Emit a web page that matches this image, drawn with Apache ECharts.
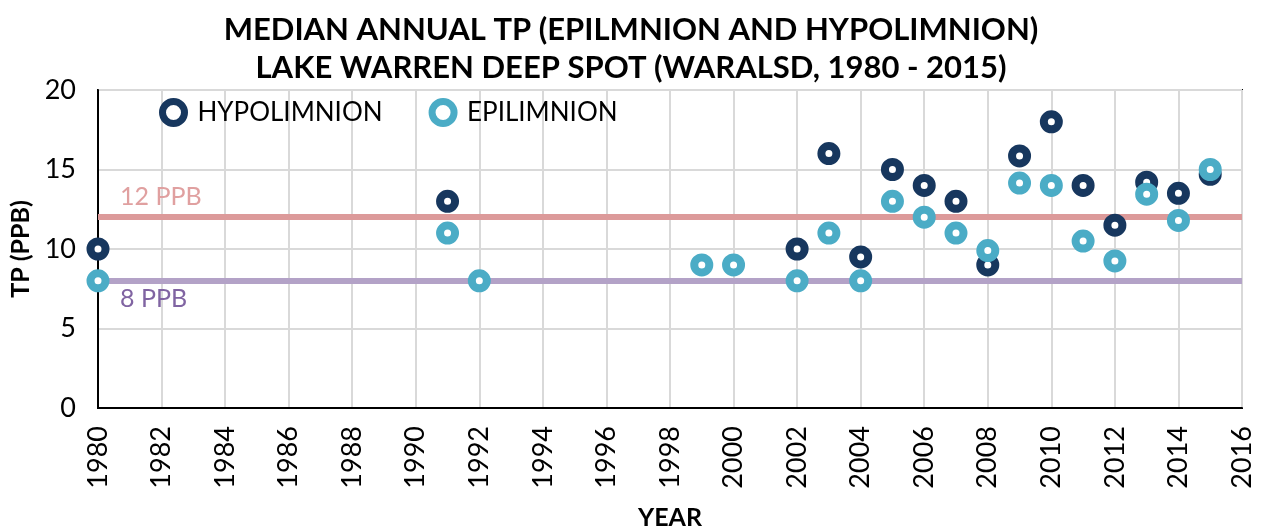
<!DOCTYPE html>
<html><head><meta charset="utf-8">
<script src="https://cdn.jsdelivr.net/npm/echarts@6/dist/echarts.min.js"></script>
<style>html,body{margin:0;padding:0;background:#fff}#c{width:1262px;height:529px}</style>
</head><body><div id="c"></div>
<script>
const titleLines = ["MEDIAN ANNUAL TP (EPILMNION AND HYPOLIMNION)", "LAKE WARREN DEEP SPOT (WARALSD, 1980 - 2015)"];
const hypoYears = [1980, 1991, 2002, 2003, 2004, 2005, 2006, 2007, 2008, 2009, 2010, 2011, 2012, 2013, 2014, 2015];
const hypoValues = [10, 13, 10, 16, 9.5, 15, 14, 13, 9, 15.85, 18, 14, 11.5, 14.2, 13.5, 14.7];
const epiYears = [1980, 1991, 1992, 1999, 2000, 2002, 2003, 2004, 2005, 2006, 2007, 2008, 2009, 2010, 2011, 2012, 2013, 2014, 2015];
const epiValues = [8, 11, 8, 9, 9, 8, 11, 8, 13, 12, 11, 9.9, 14.15, 14, 10.5, 9.25, 13.45, 11.8, 15];
const thresholds = [12, 8];
const thresholdLabels = ["12 PPB", "8 PPB"];

const FONT = "Lato";
const hypo = hypoYears.map((y, i) => [y, hypoValues[i]]);
const epi = epiYears.map((y, i) => [y, epiValues[i]]);

const chart = echarts.init(document.getElementById('c'), null, {renderer: 'canvas'});
const ringStyle = c => ({color: '#fff', borderColor: c, borderWidth: 8, opacity: 1});
chart.setOption({
  animation: false,
  title: {
    text: titleLines.join('\n'), left: 'center', top: 6,
    textStyle: {fontFamily: FONT, fontWeight: 'bold', fontSize: 31, lineHeight: 38, color: '#000'}
  },
  legend: {
    left: 154, top: 93, itemGap: 46, itemWidth: 22, itemHeight: 22,
    textStyle: {fontFamily: FONT, fontSize: 26, color: '#000', padding: [0, 0, 0, 8]},
    data: [{name: 'HYPOLIMNION', icon: 'circle', itemStyle: {color: '#fff', borderColor: '#17375E', borderWidth: 7}},
           {name: 'EPILIMNION', icon: 'circle', itemStyle: {color: '#fff', borderColor: '#4BACC6', borderWidth: 7}}]
  },
  grid: {left: 98, right: 20, top: 90, bottom: 121, show: true, borderColor: '#000', borderWidth: 2, outerBoundsMode: 'none', containLabel: false},
  xAxis: {
    type: 'value', min: 1980, max: 2016, interval: 2,
    name: 'YEAR', nameLocation: 'middle', nameGap: 97,
    nameTextStyle: {fontFamily: FONT, fontWeight: 'bold', fontSize: 25, color: '#000'},
    axisLine: {show: true, lineStyle: {color: '#000', width: 2}},
    axisTick: {show: false},
    axisLabel: {rotate: 90, fontFamily: FONT, fontSize: 27, color: '#000', margin: 18, formatter: v => String(v)},
    splitLine: {show: true, lineStyle: {color: '#d9d9d9', width: 2}}
  },
  yAxis: {
    type: 'value', min: 0, max: 20, interval: 5,
    name: 'TP (PPB)', nameLocation: 'middle', nameGap: 50, nameRotate: 90,
    nameTextStyle: {fontFamily: FONT, fontWeight: 'bold', fontSize: 25, color: '#000'},
    axisLine: {show: true, lineStyle: {color: '#000', width: 2}},
    axisTick: {show: false},
    axisLabel: {fontFamily: FONT, fontSize: 27, color: '#000', margin: 22},
    splitLine: {show: true, lineStyle: {color: '#d9d9d9', width: 2}}
  },
  series: [
    {
      name: 'HYPOLIMNION', type: 'scatter', data: hypo, symbol: 'circle', symbolSize: 15,
      itemStyle: ringStyle('#17375E'), z: 3,
      markLine: {
        silent: true, symbol: 'none', z: 1,
        data: [
          {yAxis: thresholds[0], lineStyle: {color: '#DC9A9A', width: 6, type: 'solid', opacity: 1},
           label: {formatter: thresholdLabels[0], position: 'insideStartTop', color: '#E0A0A0', fontFamily: FONT, fontSize: 25, distance: [22, 8]}},
          {yAxis: thresholds[1], lineStyle: {color: '#B3A2C7', width: 6, type: 'solid', opacity: 1},
           label: {formatter: thresholdLabels[1], position: 'insideStartBottom', color: '#8064A2', fontFamily: FONT, fontSize: 25, distance: [22, 6]}}
        ]
      }
    },
    {
      name: 'EPILIMNION', type: 'scatter', data: epi, symbol: 'circle', symbolSize: 15,
      itemStyle: ringStyle('#4BACC6'), z: 4
    }
  ]
});
</script></body></html>
